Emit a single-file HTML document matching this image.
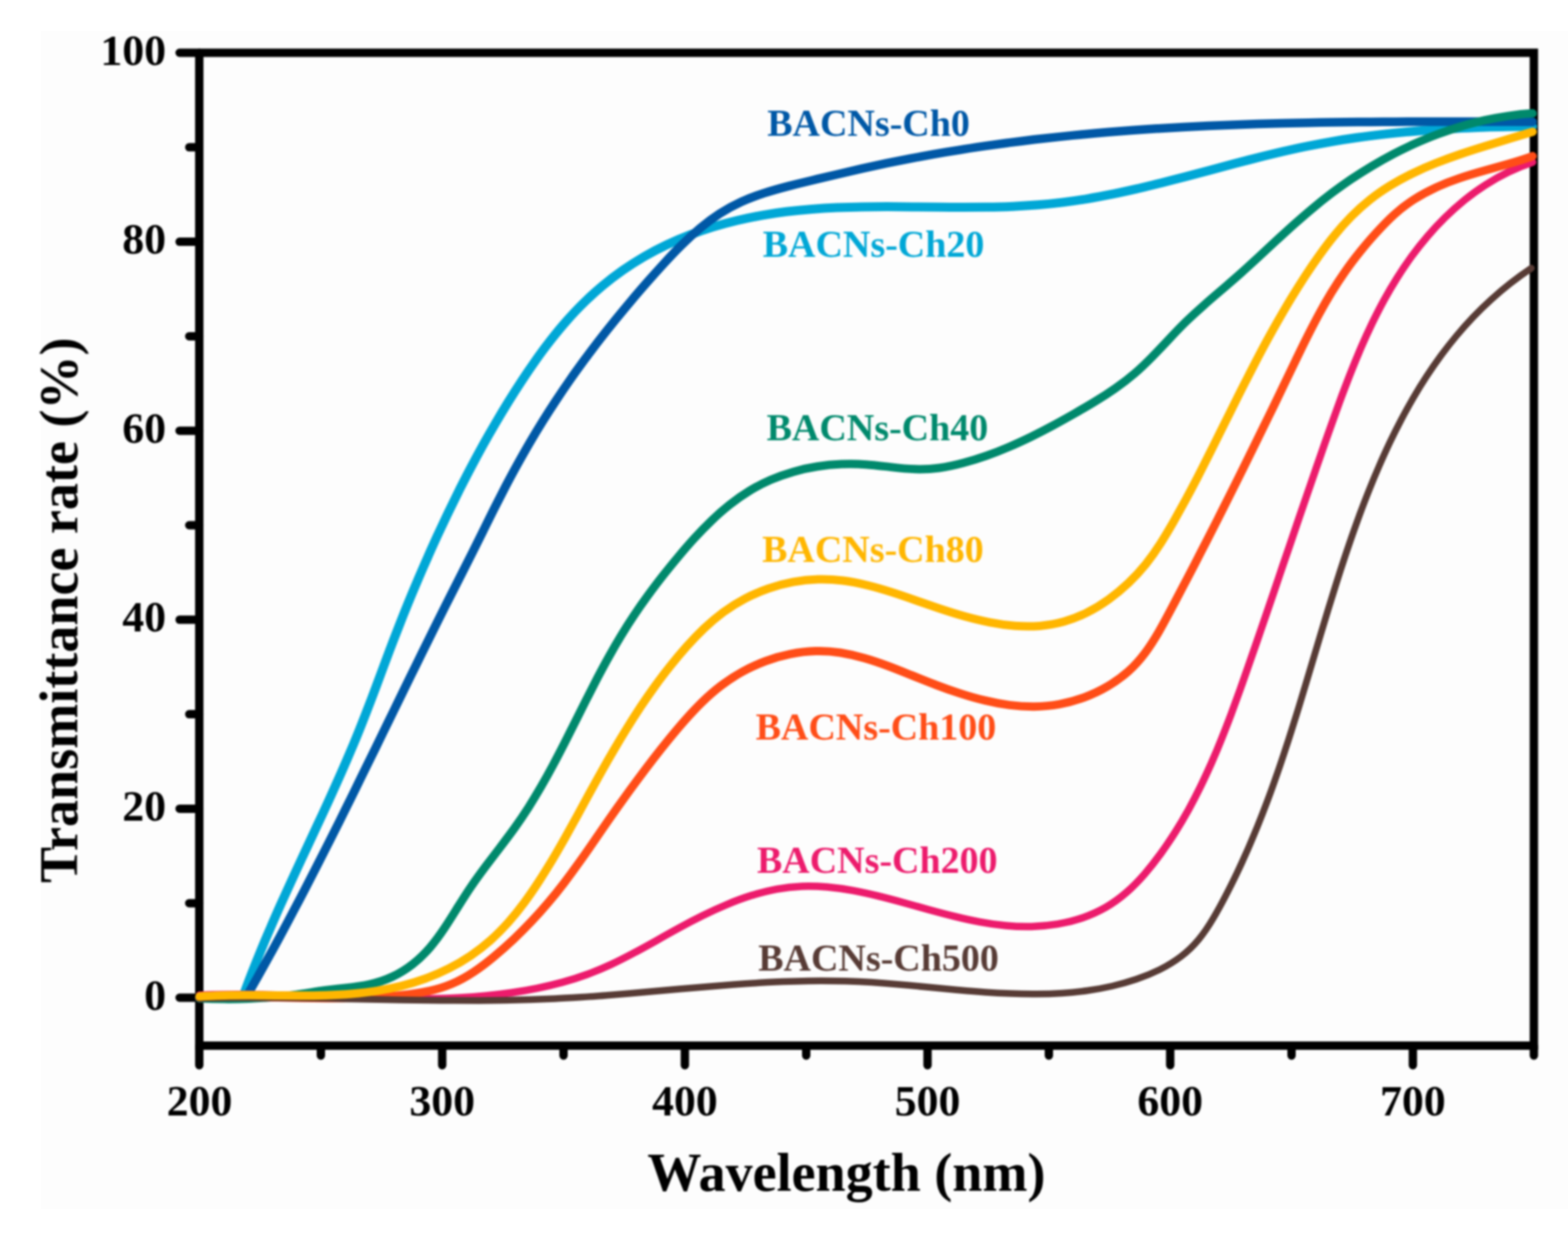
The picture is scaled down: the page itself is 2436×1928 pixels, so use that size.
<!DOCTYPE html>
<html lang="en">
<head>
<meta charset="utf-8">
<title>Transmittance rate vs Wavelength</title>
<style>
html,body{margin:0;padding:0;background:#ffffff;}
body{width:2436px;height:1928px;overflow:hidden;position:relative;font-family:"Liberation Serif",serif;}
svg{display:block;position:absolute;left:0;top:0;}
text{font-family:"Liberation Serif",serif;font-weight:bold;}
.tick{font-size:68px;fill:#000;}
.axl{font-size:84px;fill:#000;}
.lab{font-size:59px;}
.soft{filter:blur(1.6px);}
</style>
</head>
<body>
<svg xmlns="http://www.w3.org/2000/svg" width="2436" height="1928" viewBox="0 0 2436 1928">
<rect x="0" y="0" width="2436" height="1928" fill="#ffffff"/>
<rect x="64" y="48" width="2372" height="1830" fill="#fdfdfd"/>
<g class="soft">
<g stroke="#000" stroke-width="13" fill="none" stroke-linecap="round">
<path d="M309.6 82 H2383 V1624.5 H309.6 V82"/>
<path d="M279 1550.0 H309.6"/>
<path d="M294 1403.2 H309.6"/>
<path d="M279 1256.4 H309.6"/>
<path d="M294 1109.6 H309.6"/>
<path d="M279 962.8 H309.6"/>
<path d="M294 816.0 H309.6"/>
<path d="M279 669.2 H309.6"/>
<path d="M294 522.4 H309.6"/>
<path d="M279 375.6 H309.6"/>
<path d="M294 228.8 H309.6"/>
<path d="M279 82.0 H309.6"/>
<path d="M309.6 1624.5 V1655"/>
<path d="M498.5 1624.5 V1640"/>
<path d="M687.0 1624.5 V1655"/>
<path d="M875.5 1624.5 V1640"/>
<path d="M1064.0 1624.5 V1655"/>
<path d="M1252.5 1624.5 V1640"/>
<path d="M1441.0 1624.5 V1655"/>
<path d="M1629.5 1624.5 V1640"/>
<path d="M1818.0 1624.5 V1655"/>
<path d="M2006.5 1624.5 V1640"/>
<path d="M2195.0 1624.5 V1655"/>
<path d="M2383.0 1624.5 V1640"/>
</g>
<g fill="none" stroke-linecap="round" stroke-linejoin="round">
<path stroke="#00A7D6" stroke-width="14" d="M310.0 1550.0L377.0 1550.0C381.4 1537.7 385.9 1525.5 390.6 1513.4C395.3 1501.2 400.1 1489.2 405.1 1477.1C410.0 1465.1 415.1 1453.1 420.3 1441.2C425.4 1429.2 430.7 1417.3 436.0 1405.4C441.4 1393.6 446.8 1381.7 452.2 1369.9C457.6 1358.1 463.1 1346.3 468.6 1334.4C474.1 1322.6 479.6 1310.8 485.1 1299.0C490.6 1287.2 496.1 1275.4 501.6 1263.6C507.1 1251.8 512.5 1240.0 517.8 1228.1C523.2 1216.2 528.5 1204.4 533.7 1192.4C538.9 1180.5 544.0 1168.6 549.1 1156.6C554.1 1144.5 559.0 1132.5 563.7 1120.4C568.5 1108.3 573.1 1096.1 577.8 1084.0C582.4 1071.8 586.9 1059.6 591.5 1047.4C596.0 1035.3 600.5 1023.1 605.1 1010.9C609.7 998.8 614.4 986.6 619.1 974.6C623.8 962.5 628.6 950.4 633.5 938.4C638.4 926.4 643.4 914.4 648.5 902.5C653.6 890.6 658.7 878.6 664.0 866.8C669.2 854.9 674.6 843.0 680.0 831.2C685.5 819.4 691.0 807.6 696.6 795.9C702.3 784.1 708.0 772.4 713.8 760.8C719.7 749.2 725.6 737.6 731.7 726.1C737.8 714.6 744.0 703.1 750.3 691.7C756.6 680.3 763.1 669.0 769.7 657.8C776.2 646.6 782.9 635.4 789.8 624.3C796.6 613.3 803.6 602.3 810.8 591.4C817.9 580.5 825.2 569.8 832.7 559.2C840.2 548.5 848.0 538.1 856.0 527.9C864.0 517.7 872.2 507.7 880.8 498.0C889.4 488.3 898.3 478.8 907.6 469.8C916.8 460.7 926.5 451.9 936.5 443.6C946.6 435.2 957.0 427.3 967.7 419.8C978.4 412.3 989.4 405.3 1000.7 398.7C1012.0 392.2 1023.5 386.1 1035.2 380.6C1046.9 375.0 1058.8 369.9 1070.9 365.3C1083.0 360.6 1095.3 356.4 1107.7 352.6C1120.1 348.9 1132.6 345.5 1145.3 342.5C1157.9 339.5 1170.7 336.9 1183.5 334.6C1196.3 332.3 1209.2 330.4 1222.1 328.8C1235.0 327.2 1248.0 325.9 1260.9 324.9C1273.9 323.9 1286.9 323.1 1299.9 322.5C1312.9 322.0 1326.0 321.6 1339.0 321.4C1352.0 321.2 1365.1 321.1 1378.2 321.1C1391.2 321.2 1404.3 321.3 1417.3 321.4C1430.4 321.5 1443.5 321.7 1456.5 321.8C1469.6 322.0 1482.6 322.1 1495.7 322.1C1508.7 322.1 1521.7 322.0 1534.7 321.8C1547.7 321.6 1560.7 321.2 1573.7 320.7C1586.6 320.1 1599.6 319.3 1612.5 318.3C1625.4 317.3 1638.3 316.0 1651.1 314.4C1663.9 312.8 1676.7 310.9 1689.5 308.8C1702.3 306.6 1715.0 304.2 1727.8 301.7C1740.5 299.1 1753.2 296.3 1765.9 293.4C1778.5 290.4 1791.2 287.4 1803.9 284.2C1816.5 281.0 1829.2 277.7 1841.8 274.4C1854.4 271.1 1867.1 267.7 1879.7 264.4C1892.4 261.0 1905.0 257.6 1917.6 254.3C1930.3 251.0 1942.9 247.7 1955.6 244.5C1968.3 241.3 1981.0 238.3 1993.7 235.3C2006.4 232.4 2019.1 229.6 2031.8 227.0C2044.6 224.4 2057.3 222.0 2070.1 219.8C2082.9 217.6 2095.8 215.6 2108.6 213.8C2121.4 212.0 2134.3 210.4 2147.2 208.9C2160.1 207.4 2173.0 206.1 2185.9 204.9C2198.9 203.7 2211.8 202.7 2224.8 201.8C2237.7 200.9 2250.7 200.1 2263.7 199.5C2276.7 198.8 2289.7 198.3 2302.7 197.8C2315.8 197.4 2328.8 197.0 2341.8 196.8C2354.9 196.5 2367.9 196.3 2381.0 196.2"/>
<path stroke="#0058A6" stroke-width="13.5" d="M310.0 1550.0L382.0 1550.0C388.4 1538.8 394.8 1527.6 401.1 1516.3C407.5 1505.1 413.7 1493.8 419.9 1482.5C426.2 1471.2 432.3 1459.8 438.4 1448.5C444.6 1437.1 450.6 1425.7 456.6 1414.2C462.7 1402.8 468.7 1391.4 474.6 1379.9C480.6 1368.4 486.5 1356.9 492.3 1345.4C498.2 1333.9 504.1 1322.4 509.9 1310.8C515.7 1299.3 521.5 1287.7 527.3 1276.2C533.0 1264.6 538.8 1253.0 544.5 1241.4C550.2 1229.8 555.9 1218.2 561.6 1206.6C567.3 1195.0 573.0 1183.4 578.7 1171.8C584.4 1160.2 590.0 1148.6 595.7 1136.9C601.4 1125.3 607.0 1113.7 612.7 1102.1C618.4 1090.5 624.0 1078.9 629.7 1067.2C635.4 1055.6 641.1 1044.0 646.8 1032.4C652.5 1020.8 658.2 1009.3 663.9 997.7C669.6 986.1 675.3 974.5 681.1 963.0C686.9 951.4 692.6 939.9 698.5 928.4C704.3 916.9 710.1 905.4 716.0 893.9C721.8 882.4 727.7 870.9 733.5 859.3C739.2 847.8 745.0 836.2 750.7 824.7C756.4 813.1 762.1 801.5 767.9 789.9C773.7 778.4 779.6 766.9 785.6 755.4C791.6 744.0 797.7 732.6 804.0 721.3C810.2 710.0 816.6 698.8 823.1 687.6C829.6 676.5 836.3 665.4 843.1 654.5C849.9 643.6 856.9 632.7 864.0 622.0C871.1 611.2 878.3 600.6 885.7 590.0C893.1 579.4 900.7 569.0 908.3 558.6C916.0 548.2 923.8 537.9 931.7 527.7C939.6 517.5 947.6 507.4 955.8 497.3C963.9 487.2 972.2 477.3 980.6 467.3C988.9 457.4 997.4 447.6 1006.0 437.8C1014.6 428.0 1023.3 418.3 1032.1 408.7C1040.9 399.1 1049.8 389.6 1059.0 380.6C1068.2 371.5 1077.7 362.8 1087.5 354.6C1097.3 346.4 1107.5 338.8 1118.1 331.9C1128.8 325.0 1139.9 318.9 1151.5 313.6C1163.1 308.4 1175.2 303.9 1187.5 299.9C1199.8 295.9 1212.5 292.4 1225.2 289.1C1237.9 285.9 1250.7 282.8 1263.4 279.7C1276.1 276.7 1288.8 273.6 1301.4 270.7C1314.1 267.7 1326.7 264.8 1339.3 261.9C1352.0 259.1 1364.6 256.4 1377.2 253.7C1389.9 251.1 1402.6 248.6 1415.2 246.1C1427.9 243.7 1440.6 241.4 1453.3 239.1C1466.0 236.9 1478.8 234.8 1491.5 232.8C1504.2 230.7 1517.0 228.8 1529.8 226.9C1542.5 225.1 1555.3 223.3 1568.1 221.6C1580.9 220.0 1593.7 218.4 1606.5 216.8C1619.3 215.3 1632.1 213.9 1644.9 212.6C1657.8 211.2 1670.6 209.9 1683.5 208.7C1696.3 207.5 1709.2 206.4 1722.0 205.3C1734.9 204.3 1747.8 203.3 1760.7 202.3C1773.5 201.4 1786.4 200.5 1799.3 199.7C1812.2 198.9 1825.1 198.2 1838.0 197.5C1850.9 196.8 1863.8 196.1 1876.8 195.5C1889.7 195.0 1902.6 194.4 1915.5 193.9C1928.4 193.4 1941.4 193.0 1954.3 192.6C1967.2 192.2 1980.2 191.9 1993.1 191.5C2006.1 191.2 2019.0 190.9 2031.9 190.7C2044.9 190.4 2057.8 190.2 2070.8 190.0C2083.7 189.9 2096.6 189.7 2109.6 189.6C2122.5 189.5 2135.5 189.4 2148.4 189.3C2161.3 189.2 2174.3 189.1 2187.2 189.1C2200.2 189.1 2213.1 189.0 2226.0 189.0C2239.0 189.0 2251.9 189.0 2264.8 189.0C2277.7 189.0 2290.7 189.0 2303.6 189.1C2316.5 189.1 2329.4 189.1 2342.3 189.1C2355.2 189.2 2368.1 189.2 2381.0 189.2"/>
<path stroke="#00896C" stroke-width="13" d="M310.0 1551.0C322.8 1551.6 335.6 1552.0 348.2 1552.1C360.9 1552.2 373.6 1552.0 386.1 1551.5C398.7 1551.0 411.2 1550.2 423.7 1549.2C436.2 1548.1 448.6 1546.7 461.0 1545.1C473.4 1543.4 485.8 1541.3 498.2 1539.4C510.7 1537.5 523.4 1536.2 536.1 1534.9C548.8 1533.5 561.4 1532.0 573.7 1529.3C586.0 1526.7 598.0 1522.8 609.3 1517.5C620.7 1512.1 631.4 1505.5 641.2 1497.8C651.1 1490.1 660.0 1481.3 668.1 1471.9C676.2 1462.4 683.6 1452.2 690.7 1441.6C697.8 1431.1 704.5 1420.2 711.3 1409.3C718.1 1398.4 724.9 1387.6 732.1 1377.1C739.3 1366.6 746.8 1356.4 754.4 1346.2C762.0 1336.1 769.7 1326.2 777.3 1316.1C784.9 1306.1 792.5 1296.1 799.8 1285.9C807.1 1275.7 814.1 1265.3 820.9 1254.7C827.6 1244.1 834.1 1233.3 840.5 1222.3C846.8 1211.4 852.9 1200.4 858.9 1189.2C864.9 1178.0 870.7 1166.8 876.5 1155.5C882.2 1144.2 887.9 1132.8 893.6 1121.5C899.3 1110.1 905.0 1098.7 910.7 1087.4C916.4 1076.1 922.2 1064.8 928.0 1053.5C933.9 1042.3 939.8 1031.2 946.0 1020.2C952.1 1009.2 958.4 998.3 964.9 987.6C971.4 976.9 978.1 966.3 985.1 955.9C992.0 945.5 999.2 935.3 1006.6 925.2C1014.0 915.1 1021.6 905.0 1029.4 895.1C1037.1 885.2 1045.1 875.4 1053.3 865.6C1061.5 855.8 1069.8 846.1 1078.4 836.7C1087.0 827.2 1095.9 818.0 1105.1 809.2C1114.2 800.3 1123.7 791.9 1133.6 784.1C1143.4 776.3 1153.6 769.1 1164.3 762.6C1174.9 756.1 1186.0 750.4 1197.5 745.4C1209.0 740.5 1220.8 736.3 1232.8 732.9C1244.9 729.4 1257.2 726.7 1269.7 724.8C1282.1 722.8 1294.8 721.6 1307.5 721.1C1320.2 720.6 1332.9 720.8 1345.6 721.7C1358.3 722.6 1371.0 724.2 1383.7 725.6C1396.3 727.1 1408.9 728.4 1421.5 728.8C1434.1 729.3 1446.6 728.7 1459.1 727.0C1471.6 725.3 1484.0 722.6 1496.2 719.3C1508.4 716.1 1520.5 712.4 1532.3 708.2C1544.2 704.0 1555.9 699.4 1567.5 694.4C1579.1 689.4 1590.5 684.1 1601.9 678.6C1613.2 673.0 1624.4 667.2 1635.6 661.2C1646.7 655.2 1657.7 649.0 1668.7 642.8C1679.7 636.5 1690.7 630.2 1701.4 623.6C1712.2 617.1 1722.8 610.3 1733.0 603.1C1743.3 595.9 1753.3 588.3 1762.8 580.1C1772.3 572.0 1781.3 563.2 1790.2 554.2C1799.0 545.2 1807.7 535.9 1816.4 526.7C1825.1 517.4 1833.8 508.2 1842.9 499.4C1852.0 490.6 1861.3 482.1 1870.8 473.8C1880.2 465.4 1889.8 457.3 1899.4 449.1C1908.9 440.9 1918.5 432.7 1927.8 424.4C1937.2 416.0 1946.4 407.6 1955.6 399.1C1964.7 390.6 1973.9 382.1 1983.0 373.6C1992.2 365.2 2001.4 356.7 2010.7 348.4C2020.0 340.1 2029.4 331.9 2039.0 323.9C2048.6 315.8 2058.4 308.0 2068.4 300.4C2078.5 292.8 2088.8 285.5 2099.2 278.4C2109.7 271.4 2120.4 264.6 2131.3 258.1C2142.1 251.6 2153.2 245.4 2164.4 239.5C2175.7 233.6 2187.1 228.1 2198.6 222.9C2210.2 217.8 2221.9 212.9 2233.7 208.5C2245.6 204.1 2257.5 200.1 2269.6 196.5C2281.7 192.8 2293.9 189.7 2306.2 186.9C2318.5 184.2 2330.9 181.9 2343.4 180.1C2355.8 178.3 2368.4 176.9 2381.0 176.1"/>
<path stroke="#EC1B6C" stroke-width="11.5" d="M310.0 1546.0C323.3 1545.4 336.7 1545.1 350.0 1545.0C363.4 1544.8 376.8 1544.8 390.3 1545.0C403.7 1545.1 417.2 1545.4 430.7 1545.8C444.1 1546.2 457.7 1546.6 471.2 1547.1C484.7 1547.6 498.2 1548.2 511.7 1548.7C525.3 1549.2 538.8 1549.7 552.4 1550.2C565.9 1550.6 579.4 1551.0 593.0 1551.3C606.5 1551.6 620.0 1551.8 633.5 1551.9C647.1 1551.9 660.6 1551.8 674.0 1551.5C687.5 1551.2 701.0 1550.7 714.4 1550.0C727.8 1549.2 741.2 1548.2 754.6 1546.9C768.0 1545.7 781.3 1544.1 794.6 1542.2C807.9 1540.3 821.2 1538.0 834.4 1535.3C847.5 1532.7 860.6 1529.6 873.5 1526.1C886.4 1522.6 899.2 1518.6 911.7 1514.0C924.2 1509.5 936.4 1504.4 948.5 1498.8C960.6 1493.2 972.4 1487.1 984.2 1480.8C996.0 1474.5 1007.8 1468.0 1019.6 1461.4C1031.3 1454.7 1043.2 1448.0 1055.2 1441.5C1067.2 1434.9 1079.4 1428.5 1091.8 1422.4C1104.2 1416.2 1116.7 1410.5 1129.4 1405.2C1142.1 1399.9 1154.9 1395.1 1167.8 1391.1C1180.7 1387.1 1193.7 1383.7 1206.7 1381.3C1219.7 1378.9 1232.8 1377.4 1245.8 1376.9C1258.9 1376.4 1272.0 1376.9 1285.1 1378.0C1298.1 1379.2 1311.3 1381.0 1324.4 1383.4C1337.5 1385.8 1350.6 1388.7 1363.8 1391.9C1376.9 1395.1 1390.1 1398.6 1403.3 1402.2C1416.5 1405.8 1429.7 1409.6 1442.9 1413.2C1456.1 1416.8 1469.4 1420.4 1482.7 1423.6C1496.0 1426.9 1509.3 1429.9 1522.6 1432.3C1535.9 1434.8 1549.2 1436.7 1562.6 1438.0C1576.0 1439.3 1589.4 1439.8 1602.8 1439.5C1616.3 1439.1 1629.7 1437.9 1642.9 1435.7C1656.1 1433.5 1669.1 1430.3 1681.6 1426.0C1694.1 1421.7 1706.2 1416.3 1717.6 1409.8C1729.1 1403.2 1739.8 1395.4 1749.8 1386.7C1759.9 1377.9 1769.3 1368.2 1778.2 1358.0C1787.0 1347.7 1795.4 1337.0 1803.4 1326.0C1811.3 1315.0 1818.9 1303.8 1826.1 1292.4C1833.3 1281.0 1840.1 1269.4 1846.6 1257.7C1853.1 1245.9 1859.3 1233.9 1865.2 1221.8C1871.1 1209.7 1876.7 1197.5 1882.2 1185.2C1887.6 1172.8 1892.8 1160.4 1897.8 1147.8C1902.9 1135.3 1907.7 1122.7 1912.5 1110.0C1917.2 1097.3 1921.8 1084.6 1926.4 1071.9C1930.9 1059.2 1935.4 1046.4 1939.8 1033.7C1944.3 1020.9 1948.7 1008.2 1953.1 995.5C1957.5 982.8 1961.8 970.1 1966.2 957.4C1970.5 944.7 1974.9 932.0 1979.2 919.3C1983.5 906.6 1987.8 893.9 1992.1 881.2C1996.4 868.6 2000.8 855.9 2005.1 843.2C2009.4 830.5 2013.7 817.8 2018.0 805.1C2022.4 792.4 2026.7 779.7 2031.1 767.0C2035.4 754.3 2039.8 741.6 2044.2 728.9C2048.6 716.2 2053.1 703.4 2057.5 690.7C2062.0 677.9 2066.5 665.2 2071.1 652.4C2075.6 639.7 2080.2 626.9 2084.9 614.2C2089.7 601.5 2094.5 588.8 2099.5 576.3C2104.5 563.7 2109.7 551.2 2115.0 538.8C2120.4 526.4 2126.0 514.2 2131.8 502.1C2137.7 490.0 2143.8 478.0 2150.2 466.3C2156.6 454.5 2163.4 443.0 2170.5 431.7C2177.6 420.4 2185.1 409.3 2192.9 398.5C2200.8 387.7 2209.1 377.1 2217.9 366.9C2226.6 356.7 2235.8 346.9 2245.4 337.5C2255.0 328.0 2265.1 319.1 2275.5 310.6C2286.0 302.2 2296.9 294.3 2308.2 287.1C2319.5 279.8 2331.2 273.2 2343.4 267.3C2355.5 261.4 2368.0 256.3 2381.0 252.0"/>
<path stroke="#FF4D17" stroke-width="13" d="M310.0 1550.0C323.2 1549.3 336.4 1549.0 349.6 1548.8C362.7 1548.6 375.9 1548.6 389.0 1548.7C402.2 1548.9 415.3 1549.1 428.5 1549.4C441.6 1549.7 454.7 1550.0 467.8 1550.3C481.0 1550.5 494.1 1550.7 507.2 1550.8C520.3 1550.9 533.5 1550.9 546.6 1550.6C559.8 1550.4 572.9 1549.9 586.1 1549.2C599.2 1548.4 612.4 1547.4 625.6 1546.0C638.8 1544.6 652.0 1542.7 664.9 1539.9C677.7 1537.2 690.3 1533.5 702.2 1528.4C714.2 1523.3 725.6 1516.9 736.5 1509.6C747.4 1502.3 757.9 1494.2 768.0 1485.7C778.2 1477.2 788.1 1468.4 797.7 1459.4C807.2 1450.4 816.5 1441.1 825.6 1431.5C834.6 1422.0 843.3 1412.2 851.8 1402.2C860.3 1392.3 868.5 1382.1 876.4 1371.7C884.4 1361.3 892.1 1350.8 899.7 1340.1C907.3 1329.5 914.8 1318.7 922.2 1307.9C929.7 1297.1 937.1 1286.2 944.6 1275.4C952.2 1264.5 959.8 1253.7 967.5 1242.9C975.2 1232.1 983.0 1221.4 990.9 1210.8C998.8 1200.2 1006.8 1189.6 1014.8 1179.2C1022.9 1168.8 1031.1 1158.5 1039.3 1148.4C1047.6 1138.2 1055.9 1128.3 1064.5 1118.6C1073.1 1108.9 1081.9 1099.5 1091.1 1090.5C1100.3 1081.6 1109.9 1073.1 1120.2 1065.3C1130.4 1057.5 1141.3 1050.3 1152.9 1043.9C1164.5 1037.5 1176.7 1031.9 1189.3 1027.2C1201.8 1022.5 1214.8 1018.8 1227.8 1016.2C1240.9 1013.5 1254.0 1011.9 1267.0 1011.6C1280.0 1011.2 1292.8 1012.1 1305.5 1014.0C1318.1 1016.0 1330.6 1018.9 1343.0 1022.5C1355.4 1026.0 1367.8 1030.3 1380.1 1034.9C1392.4 1039.5 1404.7 1044.5 1417.0 1049.4C1429.4 1054.4 1441.8 1059.4 1454.2 1064.1C1466.7 1068.9 1479.3 1073.4 1491.9 1077.4C1504.5 1081.5 1517.2 1085.2 1530.0 1088.2C1542.7 1091.3 1555.5 1093.7 1568.3 1095.4C1581.1 1097.0 1594.0 1097.8 1606.9 1097.7C1619.8 1097.5 1632.7 1096.4 1645.6 1094.1C1658.5 1091.7 1671.4 1088.2 1684.1 1083.6C1696.7 1078.9 1709.0 1073.2 1720.5 1066.4C1732.1 1059.6 1743.0 1051.8 1752.8 1043.1C1762.6 1034.4 1771.2 1024.7 1779.0 1014.3C1786.7 1004.0 1793.6 993.0 1800.2 981.7C1806.7 970.4 1812.8 958.8 1819.0 947.2C1825.2 935.6 1831.3 924.0 1837.4 912.3C1843.5 900.7 1849.6 889.0 1855.6 877.4C1861.6 865.7 1867.7 854.0 1873.7 842.3C1879.6 830.6 1885.6 818.9 1891.6 807.1C1897.5 795.4 1903.4 783.6 1909.3 771.9C1915.2 760.1 1921.1 748.3 1926.9 736.6C1932.8 724.8 1938.6 713.0 1944.4 701.2C1950.2 689.4 1956.0 677.6 1961.8 665.7C1967.6 653.9 1973.3 642.1 1979.1 630.3C1984.8 618.4 1990.5 606.6 1996.2 594.8C2001.9 582.9 2007.6 571.1 2013.3 559.2C2019.0 547.4 2024.7 535.6 2030.6 523.9C2036.5 512.2 2042.5 500.5 2048.7 489.0C2054.9 477.5 2061.4 466.1 2068.2 454.9C2075.0 443.7 2082.1 432.7 2089.7 421.9C2097.2 411.1 2105.2 400.6 2113.5 390.3C2121.8 380.1 2130.3 370.1 2139.1 360.6C2147.9 351.0 2156.8 341.7 2166.2 333.2C2175.7 324.6 2185.9 316.9 2196.7 309.9C2207.5 303.0 2219.0 296.8 2230.8 291.3C2242.6 285.9 2254.9 281.1 2267.4 276.9C2279.9 272.7 2292.6 268.9 2305.4 265.3C2318.2 261.7 2331.0 258.2 2343.7 254.5C2356.3 250.9 2368.8 247.0 2381.0 242.6"/>
<path stroke="#573B35" stroke-width="10.5" d="M310.0 1551.0C323.1 1550.6 336.2 1550.4 349.3 1550.2C362.4 1550.0 375.6 1549.9 388.7 1549.9C401.8 1549.9 415.0 1549.9 428.1 1550.0C441.3 1550.1 454.4 1550.3 467.6 1550.5C480.8 1550.6 493.9 1550.9 507.1 1551.1C520.3 1551.3 533.4 1551.6 546.6 1551.9C559.8 1552.1 573.0 1552.4 586.1 1552.7C599.3 1552.9 612.5 1553.2 625.6 1553.4C638.8 1553.6 652.0 1553.8 665.2 1554.0C678.3 1554.2 691.5 1554.3 704.6 1554.3C717.8 1554.4 731.0 1554.4 744.1 1554.4C757.3 1554.3 770.4 1554.2 783.5 1554.0C796.7 1553.7 809.8 1553.4 822.9 1553.0C836.0 1552.6 849.1 1552.1 862.2 1551.5C875.3 1550.9 888.4 1550.1 901.5 1549.3C914.6 1548.4 927.7 1547.5 940.7 1546.4C953.8 1545.4 966.9 1544.3 979.9 1543.2C993.0 1542.1 1006.1 1540.9 1019.2 1539.8C1032.3 1538.6 1045.4 1537.4 1058.5 1536.3C1071.6 1535.1 1084.7 1534.0 1097.9 1532.9C1111.0 1531.8 1124.2 1530.7 1137.4 1529.7C1150.6 1528.8 1163.7 1527.9 1176.9 1527.1C1190.1 1526.3 1203.3 1525.7 1216.5 1525.1C1229.6 1524.6 1242.8 1524.2 1255.9 1524.0C1269.1 1523.8 1282.2 1523.8 1295.2 1524.0C1308.3 1524.1 1321.3 1524.5 1334.3 1525.1C1347.3 1525.7 1360.2 1526.5 1373.2 1527.5C1386.1 1528.5 1399.1 1529.6 1412.1 1530.8C1425.1 1532.0 1438.1 1533.2 1451.2 1534.5C1464.3 1535.7 1477.5 1537.0 1490.7 1538.2C1504.0 1539.4 1517.2 1540.5 1530.6 1541.4C1543.9 1542.4 1557.2 1543.1 1570.5 1543.6C1583.9 1544.2 1597.2 1544.4 1610.4 1544.3C1623.7 1544.2 1636.9 1543.8 1650.1 1543.0C1663.2 1542.1 1676.3 1540.8 1689.3 1539.0C1702.2 1537.2 1715.1 1534.9 1727.8 1532.0C1740.5 1529.1 1753.1 1525.5 1765.5 1521.3C1777.9 1517.1 1790.0 1512.2 1801.7 1506.4C1813.3 1500.5 1824.4 1493.8 1834.6 1486.1C1844.8 1478.3 1854.1 1469.4 1862.4 1459.3C1870.6 1449.3 1877.9 1438.3 1884.7 1426.8C1891.5 1415.4 1897.9 1403.6 1904.0 1391.8C1910.2 1380.0 1916.1 1368.1 1921.8 1356.2C1927.5 1344.2 1933.0 1332.2 1938.3 1320.2C1943.5 1308.1 1948.6 1296.0 1953.6 1283.8C1958.5 1271.7 1963.3 1259.4 1967.9 1247.2C1972.5 1234.9 1977.0 1222.6 1981.3 1210.2C1985.7 1197.9 1989.9 1185.5 1994.0 1173.1C1998.2 1160.6 2002.2 1148.2 2006.2 1135.7C2010.2 1123.2 2014.0 1110.7 2017.9 1098.2C2021.7 1085.7 2025.5 1073.1 2029.3 1060.5C2033.1 1048.0 2036.8 1035.4 2040.6 1022.8C2044.3 1010.3 2048.1 997.7 2051.9 985.1C2055.6 972.5 2059.4 959.9 2063.3 947.3C2067.1 934.8 2071.0 922.2 2075.0 909.6C2078.9 897.1 2083.0 884.5 2087.1 872.0C2091.2 859.5 2095.5 847.0 2099.8 834.5C2104.2 822.0 2108.6 809.6 2113.2 797.2C2117.8 784.7 2122.6 772.4 2127.5 760.1C2132.4 747.8 2137.5 735.6 2142.8 723.5C2148.0 711.4 2153.5 699.4 2159.1 687.5C2164.8 675.6 2170.7 663.8 2176.8 652.2C2182.9 640.6 2189.2 629.2 2195.8 617.9C2202.4 606.6 2209.2 595.5 2216.3 584.7C2223.4 573.8 2230.8 563.1 2238.5 552.6C2246.2 542.2 2254.2 532.0 2262.5 522.0C2270.8 512.1 2279.4 502.4 2288.4 492.9C2297.4 483.5 2306.7 474.4 2316.4 465.6C2326.0 456.8 2336.1 448.2 2346.5 440.1C2357.0 431.9 2367.8 424.1 2379.0 416.6"/>
<path stroke="#FFB600" stroke-width="13" d="M310.0 1548.0C322.7 1547.1 335.6 1546.7 348.5 1546.4C361.5 1546.1 374.6 1546.1 387.7 1546.1C400.9 1546.2 414.1 1546.4 427.3 1546.5C440.6 1546.7 453.9 1546.8 467.2 1546.8C480.5 1546.8 493.8 1546.6 507.0 1546.2C520.2 1545.7 533.4 1545.0 546.6 1543.9C559.7 1542.8 572.7 1541.4 585.7 1539.3C598.6 1537.3 611.4 1534.8 624.1 1531.6C636.7 1528.5 649.2 1524.6 661.5 1520.1C673.8 1515.6 685.8 1510.4 697.4 1504.5C709.1 1498.6 720.3 1492.1 731.1 1484.8C741.9 1477.5 752.3 1469.5 762.0 1460.9C771.7 1452.2 780.9 1442.8 789.7 1433.0C798.4 1423.1 806.7 1412.8 814.6 1402.1C822.5 1391.5 830.0 1380.5 837.2 1369.4C844.4 1358.3 851.3 1347.1 858.1 1335.9C864.8 1324.6 871.3 1313.3 877.7 1302.0C884.1 1290.6 890.3 1279.2 896.6 1267.8C902.8 1256.4 909.0 1244.9 915.3 1233.4C921.6 1222.0 927.9 1210.5 934.3 1199.1C940.7 1187.6 947.2 1176.2 953.9 1164.9C960.5 1153.5 967.3 1142.2 974.2 1131.1C981.1 1119.9 988.2 1108.8 995.4 1097.9C1002.7 1087.0 1010.2 1076.2 1017.8 1065.6C1025.5 1055.0 1033.4 1044.6 1041.6 1034.4C1049.7 1024.2 1058.1 1014.2 1066.8 1004.4C1075.5 994.7 1084.5 985.3 1093.9 976.3C1103.3 967.3 1113.2 958.9 1123.7 951.1C1134.2 943.4 1145.4 936.3 1157.1 930.2C1168.8 924.1 1181.1 918.8 1193.7 914.4C1206.3 910.0 1219.2 906.6 1232.2 904.2C1245.2 901.7 1258.3 900.3 1271.3 900.0C1284.2 899.6 1297.0 900.4 1309.7 902.0C1322.4 903.6 1334.9 906.1 1347.5 909.2C1360.0 912.2 1372.5 915.9 1384.9 919.9C1397.4 923.9 1409.9 928.2 1422.4 932.6C1434.9 937.0 1447.5 941.4 1460.2 945.7C1472.9 949.9 1485.7 954.0 1498.7 957.6C1511.6 961.2 1524.6 964.4 1537.7 966.9C1550.7 969.5 1563.7 971.3 1576.6 972.3C1589.6 973.3 1602.5 973.4 1615.2 972.4C1627.9 971.3 1640.4 969.2 1652.7 965.8C1665.0 962.3 1677.0 957.6 1688.6 951.8C1700.3 946.0 1711.6 939.1 1722.4 931.3C1733.1 923.6 1743.4 915.0 1753.1 905.8C1762.8 896.5 1771.9 886.6 1780.2 876.3C1788.5 866.0 1796.0 855.3 1803.0 844.3C1810.0 833.3 1816.6 822.1 1823.1 810.8C1829.5 799.4 1835.8 788.0 1842.0 776.6C1848.2 765.1 1854.3 753.5 1860.3 741.9C1866.3 730.2 1872.2 718.6 1878.1 706.8C1884.0 695.1 1889.8 683.4 1895.6 671.6C1901.5 659.9 1907.3 648.1 1913.2 636.3C1919.0 624.6 1924.9 612.8 1930.8 601.1C1936.7 589.4 1942.7 577.7 1948.8 566.0C1954.8 554.3 1961.0 542.7 1967.2 531.2C1973.5 519.6 1979.9 508.2 1986.4 496.8C1992.9 485.4 1999.5 474.0 2006.3 462.8C2013.2 451.6 2020.2 440.5 2027.3 429.5C2034.5 418.5 2041.9 407.6 2049.6 396.9C2057.2 386.2 2065.1 375.6 2073.4 365.5C2081.6 355.3 2090.3 345.6 2099.4 336.3C2108.5 327.0 2118.0 318.3 2128.2 310.3C2138.3 302.2 2149.0 294.9 2160.1 288.1C2171.3 281.3 2182.9 275.1 2194.7 269.3C2206.6 263.5 2218.8 258.2 2231.2 253.3C2243.6 248.4 2256.1 243.8 2268.8 239.5C2281.4 235.1 2294.1 231.1 2306.8 227.2C2319.4 223.3 2332.0 219.5 2344.4 215.8C2356.8 212.1 2369.1 208.4 2381.0 204.7"/>
</g>
<text class="tick" x="258" y="1568.5" text-anchor="end">0</text>
<text class="tick" x="258" y="1274.9" text-anchor="end">20</text>
<text class="tick" x="258" y="981.3" text-anchor="end">40</text>
<text class="tick" x="258" y="687.7" text-anchor="end">60</text>
<text class="tick" x="258" y="394.1" text-anchor="end">80</text>
<text class="tick" x="258" y="100.5" text-anchor="end">100</text>
<text class="tick" x="310.0" y="1733" text-anchor="middle">200</text>
<text class="tick" x="687.0" y="1733" text-anchor="middle">300</text>
<text class="tick" x="1064.0" y="1733" text-anchor="middle">400</text>
<text class="tick" x="1441.0" y="1733" text-anchor="middle">500</text>
<text class="tick" x="1818.0" y="1733" text-anchor="middle">600</text>
<text class="tick" x="2195.0" y="1733" text-anchor="middle">700</text>
<text class="axl" x="1315" y="1850" text-anchor="middle">Wavelength (nm)</text>
<text class="axl" transform="translate(120 948) rotate(-90)" text-anchor="middle">Transmittance rate (%)</text>
<text class="lab" x="1192" y="211" fill="#0058A6">BACNs-Ch0</text>
<text class="lab" x="1185" y="398.5" fill="#00A7D6">BACNs-Ch20</text>
<text class="lab" x="1191" y="683.5" fill="#00896C">BACNs-Ch40</text>
<text class="lab" x="1184" y="873" fill="#FFB600">BACNs-Ch80</text>
<text class="lab" x="1174" y="1148.5" fill="#FF4D17">BACNs-Ch100</text>
<text class="lab" x="1176" y="1356" fill="#EC1B6C">BACNs-Ch200</text>
<text class="lab" x="1178" y="1508.3" fill="#573B35">BACNs-Ch500</text>
</g>
</svg>
</body>
</html>
